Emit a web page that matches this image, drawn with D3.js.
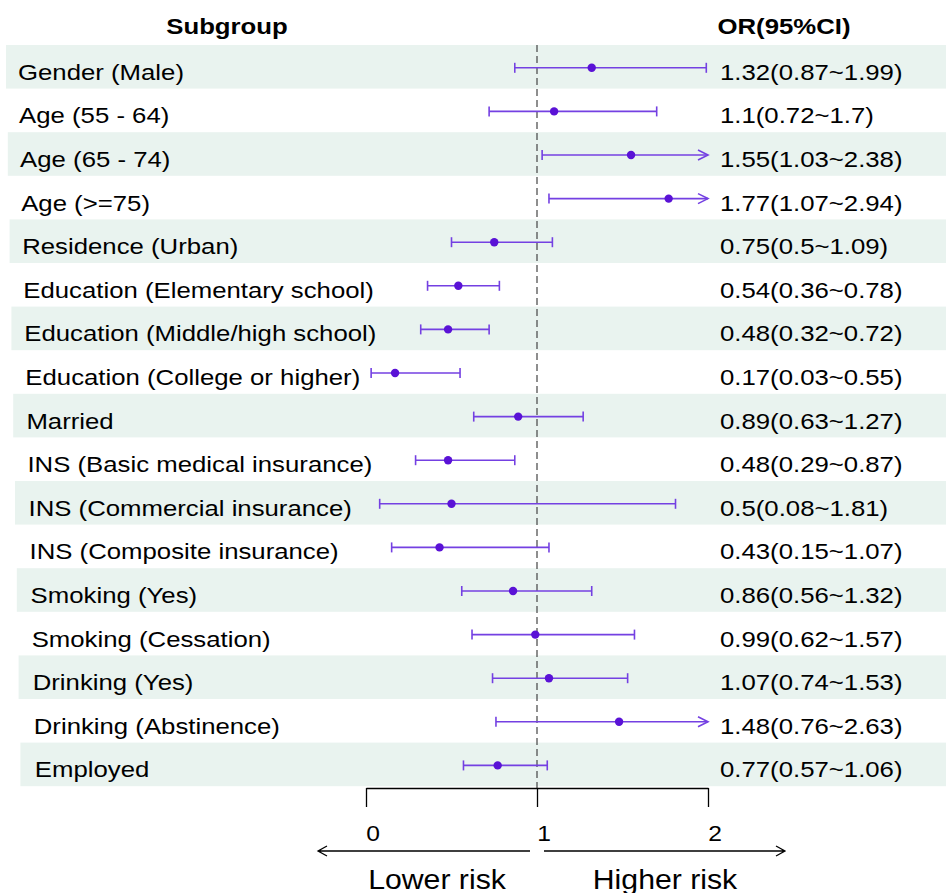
<!DOCTYPE html>
<html>
<head>
<meta charset="utf-8">
<script src="https://cdn.jsdelivr.net/npm/d3@7"></script>
<style>
  body { margin: 0; background: #fff; }
  svg { display: block; }
  text { font-family: "Liberation Sans", Arial, sans-serif; fill: #000; }
</style>
</head>
<body>
<div id="chart"></div>
<script>
// forest plot data
var subgroups = ['Gender (Male)', 'Age (55 - 64)', 'Age (65 - 74)', 'Age (>=75)', 'Residence (Urban)',
    'Education (Elementary school)', 'Education (Middle/high school)', 'Education (College or higher)',
    'Married', 'INS (Basic medical insurance)', 'INS (Commercial insurance)', 'INS (Composite insurance)',
    'Smoking (Yes)', 'Smoking (Cessation)', 'Drinking (Yes)', 'Drinking (Abstinence)', 'Employed'];
var oddsRatio = [1.32, 1.1, 1.55, 1.77, 0.75, 0.54, 0.48, 0.17, 0.89, 0.48, 0.5, 0.43, 0.86, 0.99, 1.07, 1.48, 0.77];
var ciLow = [0.87, 0.72, 1.03, 1.07, 0.5, 0.36, 0.32, 0.03, 0.63, 0.29, 0.08, 0.15, 0.56, 0.62, 0.74, 0.76, 0.57];
var ciHigh = [1.99, 1.7, 2.38, 2.94, 1.09, 0.78, 0.72, 0.55, 1.27, 0.87, 1.81, 1.07, 1.32, 1.57, 1.53, 2.63, 1.06];
var xTicks = [0, 1, 2];

var W = 946, H = 893;
var rowTop = 45, rowH = 43.6;
var lineCol = '#7440e2', dotCol = '#5a12d6', bandCol = '#e9f3ef';
var stretch = 1.12;

var svg = d3.select('#chart').append('svg').attr('width', W).attr('height', H);

var x = d3.scaleLinear().domain([0, 2]).range([366, 708]);
var y = d3.scaleBand().domain(d3.range(subgroups.length))
    .range([rowTop, rowTop + rowH * subgroups.length]);

// text is a bit wider than plain Arial in the picture
function wideText(g, tx, ty, str, size, weight, anchor) {
    var t = g.append('g').attr('transform', 'translate(' + tx + ',' + ty + ') scale(' + stretch + ',1)')
        .append('text')
        .attr('font-size', size)
        .attr('font-weight', weight || 'normal')
        .attr('text-anchor', anchor || 'start')
        .text(str);
    return t;
}

// bands
svg.append('g').selectAll('rect')
    .data(d3.range(subgroups.length).filter(function (i) { return i % 2 === 0; }))
    .enter().append('rect')
    .attr('x', function (i) { return 6 + i * 0.9; })
    .attr('y', function (i) { return y(i); })
    .attr('width', W)
    .attr('height', y.bandwidth())
    .attr('fill', bandCol);

// headers
wideText(svg, 227, 34, 'Subgroup', 23, 'bold', 'middle');
wideText(svg, 784, 34, 'OR(95%CI)', 23, 'bold', 'middle');

// labels
var labG = svg.append('g');
subgroups.forEach(function (s, i) {
    var cy = y(i) + y.bandwidth() / 2;
    wideText(labG, 18 + i * 1.05, cy + 13, s, 23);
    wideText(labG, 720, cy + 13, oddsRatio[i] + '(' + ciLow[i] + '~' + ciHigh[i] + ')', 23);
});

// reference line
svg.append('line')
    .attr('x1', x(1)).attr('x2', x(1))
    .attr('y1', rowTop).attr('y2', 788)
    .attr('stroke', '#444').attr('stroke-width', 1.2)
    .attr('stroke-dasharray', '7,4');

// CI lines
var ci = svg.append('g');
subgroups.forEach(function (s, i) {
    var cy = y(i) + y.bandwidth() / 2 + 1;
    var x0 = x(Math.max(ciLow[i], 0)), x1 = x(Math.min(ciHigh[i], 2));
    ci.append('line').attr('x1', x0).attr('x2', x1).attr('y1', cy).attr('y2', cy)
        .attr('stroke', lineCol).attr('stroke-width', 1.6);
    ci.append('line').attr('x1', x0).attr('x2', x0).attr('y1', cy - 5).attr('y2', cy + 5)
        .attr('stroke', lineCol).attr('stroke-width', 1.6);
    if (ciHigh[i] > 2) {
        ci.append('path')
            .attr('d', 'M' + (x1 - 10) + ',' + (cy - 5) + 'L' + x1 + ',' + cy + 'L' + (x1 - 10) + ',' + (cy + 5))
            .attr('fill', 'none').attr('stroke', lineCol).attr('stroke-width', 1.6);
    } else {
        ci.append('line').attr('x1', x1).attr('x2', x1).attr('y1', cy - 5).attr('y2', cy + 5)
            .attr('stroke', lineCol).attr('stroke-width', 1.6);
    }
    ci.append('circle').attr('cx', x(oddsRatio[i])).attr('cy', cy).attr('r', 4.2).attr('fill', dotCol);
});

// x axis
var axisG = svg.append('g').attr('transform', 'translate(0,788)')
    .call(d3.axisBottom(x).tickValues(xTicks).tickSize(19).tickSizeOuter(0).tickFormat(d3.format('d')));
axisG.select('.domain').attr('stroke', '#000').attr('stroke-width', 1.3);
axisG.selectAll('.tick line').attr('stroke', '#000').attr('stroke-width', 1.3);
axisG.selectAll('.tick text').remove();
xTicks.forEach(function (t) {
    wideText(svg, x(t) + 7, 841, t, 22, 'normal', 'middle');
});

// risk arrows
var ay = 851;
var arr = svg.append('g').attr('stroke', '#000').attr('stroke-width', 1.3).attr('fill', 'none');
arr.append('path').attr('d', 'M530,' + ay + 'H318M327,' + (ay - 5) + 'L318,' + ay + 'L327,' + (ay + 5));
arr.append('path').attr('d', 'M544,' + ay + 'H785M776,' + (ay - 5) + 'L785,' + ay + 'L776,' + (ay + 5));
wideText(svg, 437, 889, 'Lower risk', 27, 'normal', 'middle');
wideText(svg, 665, 889, 'Higher risk', 27, 'normal', 'middle');
</script>
</body>
</html>
